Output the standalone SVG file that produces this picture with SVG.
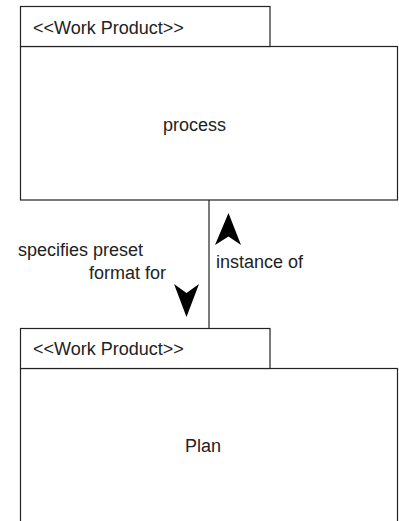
<svg xmlns="http://www.w3.org/2000/svg" width="399" height="521" viewBox="0 0 399 521">
<style>
.box{fill:#fff;stroke:#222;stroke-width:1.2}
.t{font-family:"Liberation Sans",Arial,sans-serif;font-size:18px;fill:#222}
.ln{stroke:#222;stroke-width:1.2;fill:none}
.ah{fill:#000;stroke:none}
</style>
<rect width="399" height="521" fill="#fff"/>
<g id="connectors">
<line class="ln" x1="209" y1="200" x2="209" y2="328.5"/>
<path class="ah" d="M228.5,213 L241,245 L228.5,236.5 L215,245 Z"/>
<path class="ah" d="M186.5,317 L174,284 L186.5,293 L199,284 Z"/>
<text class="t" x="18" y="256">specifies preset</text>
<text class="t" x="89" y="279">format for</text>
<text class="t" x="216" y="268">instance of</text>
</g>
<g id="process">
<rect class="box" x="20.5" y="46.5" width="377" height="153.5"/>
<rect class="box" x="20.5" y="6.5" width="249.5" height="40"/>
<text class="t" x="33" y="34">&lt;&lt;Work Product&gt;&gt;</text>
<text class="t" x="163" y="131">process</text>
</g>
<g id="plan">
<rect class="box" x="20.5" y="368.5" width="377" height="170"/>
<rect class="box" x="20.5" y="328.5" width="249.5" height="40"/>
<text class="t" x="33" y="355">&lt;&lt;Work Product&gt;&gt;</text>
<text class="t" x="185" y="452">Plan</text>
</g>
</svg>
